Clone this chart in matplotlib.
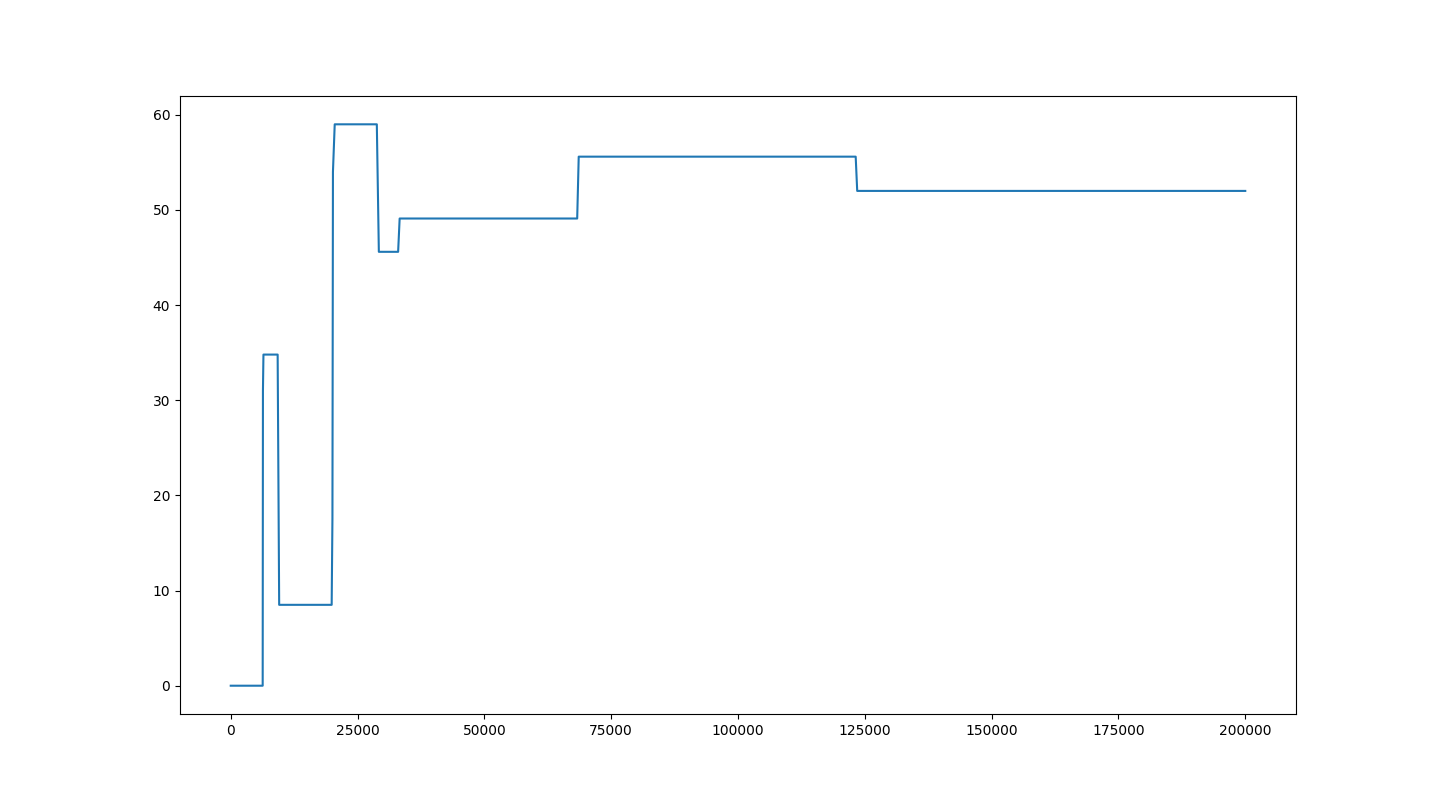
import matplotlib

matplotlib.use("Agg")
import matplotlib.pyplot as plt

# Step-like series (x = step index, y = value)
steps = [0, 6300, 6350, 6450, 9250, 9550, 19900, 20050, 20150, 20500,
         28800, 29200, 33000, 33300, 68300, 68600, 123200, 123500, 200000]
values = [0, 0, 31, 34.8, 34.8, 8.5, 8.5, 17.6, 54, 59.0,
          59.0, 45.6, 45.6, 49.1, 49.1, 55.6, 55.6, 52.0, 52.0]

fig, ax = plt.subplots(figsize=(14.4, 8.02), dpi=100)
ax.plot(steps, values)

fig.savefig("out.png", dpi=100)
